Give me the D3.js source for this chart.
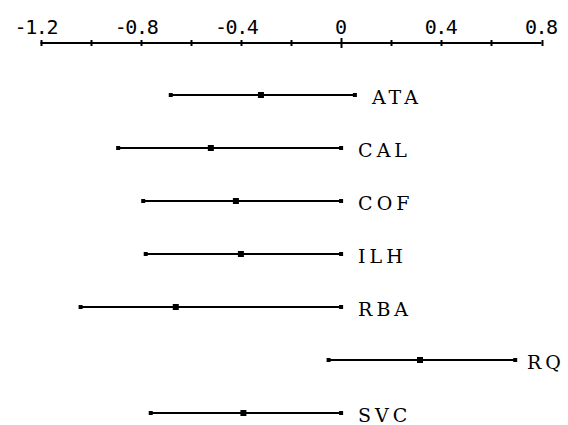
<!DOCTYPE html>
<html>
<head>
<meta charset="utf-8">
<script src="https://cdn.jsdelivr.net/npm/d3@7"></script>
<style>
  body { margin: 0; background: #fff; }
  svg { display: block; }
</style>
</head>
<body>
<script>
// Data
var names = ["ATA", "CAL", "COF", "ILH", "RBA", "RQ", "SVC"];
var lows  = [-0.68, -0.89, -0.79, -0.78, -1.04, -0.05, -0.76];
var mids  = [-0.32, -0.52, -0.42, -0.40, -0.66, 0.315, -0.39];
var highs = [0.055, 0.0, 0.0, 0.0, 0.0, 0.695, 0.0];
var tickValues = [-1.2, -0.8, -0.4, 0, 0.4, 0.8];
var minorTicks = [-1.0, -0.6, -0.2, 0.2, 0.6];

var W = 568, H = 425;

var data = names.map((n, i) => ({ name: n, lo: lows[i], mid: mids[i], hi: highs[i] }));

// Scales
var x = d3.scaleLinear()
    .domain([-1.2, 0.8])
    .range([40.5, 541.5]);

var y = d3.scalePoint()
    .domain(names)
    .range([95, 413]);

var svg = d3.select("body")
    .append("svg")
    .attr("width", W)
    .attr("height", H);

// Top axis
var axisY = 43;
var axis = svg.append("g")
    .attr("transform", `translate(0,${axisY})`);

axis.append("line")
    .attr("x1", x(-1.2)).attr("x2", x(0.8))
    .attr("stroke", "#000")
    .attr("stroke-width", 2);

// all ticks small, zero tick longer
axis.selectAll(".tk")
    .data(tickValues.concat(minorTicks))
    .enter().append("line")
    .attr("class", "tk")
    .attr("x1", d => Math.round(x(d)) + 0.5)
    .attr("x2", d => Math.round(x(d)) + 0.5)
    .attr("y1", d => d === 0 ? -5 : -3)
    .attr("y2", d => d === 0 ? 5 : 3)
    .attr("stroke", "#000")
    .attr("stroke-width", 2);

axis.selectAll(".tl")
    .data(tickValues)
    .enter().append("text")
    .attr("class", "tl")
    .attr("x", d => x(d) - (d < 0 ? 4 : 0))
    .attr("y", -9)
    .attr("text-anchor", "middle")
    .style("font-family", "'DejaVu Sans Mono', monospace")
    .style("font-size", "20px")
    .attr("textLength", d => d3.format("")(d).length * 11)
    .text(d => d3.format("")(d).replace("−", "-"));

// Interval lines
var rows = svg.selectAll(".row")
    .data(data)
    .enter().append("g")
    .attr("class", "row")
    .attr("transform", d => `translate(0,${y(d.name)})`);

rows.append("line")
    .attr("x1", d => x(d.lo))
    .attr("x2", d => x(d.hi))
    .attr("stroke", "#000")
    .attr("stroke-width", 2);

// end caps
rows.append("rect")
    .attr("x", d => x(d.lo) - 2)
    .attr("y", -2)
    .attr("width", 4).attr("height", 4)
    .attr("fill", "#000");

rows.append("rect")
    .attr("x", d => x(d.hi) - 2)
    .attr("y", -2)
    .attr("width", 4).attr("height", 4)
    .attr("fill", "#000");

// point estimate
rows.append("rect")
    .attr("x", d => x(d.mid) - 3)
    .attr("y", -3)
    .attr("width", 6).attr("height", 6)
    .attr("fill", "#000");

// Labels
rows.append("text")
    .attr("x", d => Math.min(x(d.hi) + 17, 527))
    .attr("y", 9)
    .style("font-family", "'DejaVu Serif', serif")
    .style("font-size", "19px")
    .style("letter-spacing", "4px")
    .text(d => d.name);
</script>
</body>
</html>
